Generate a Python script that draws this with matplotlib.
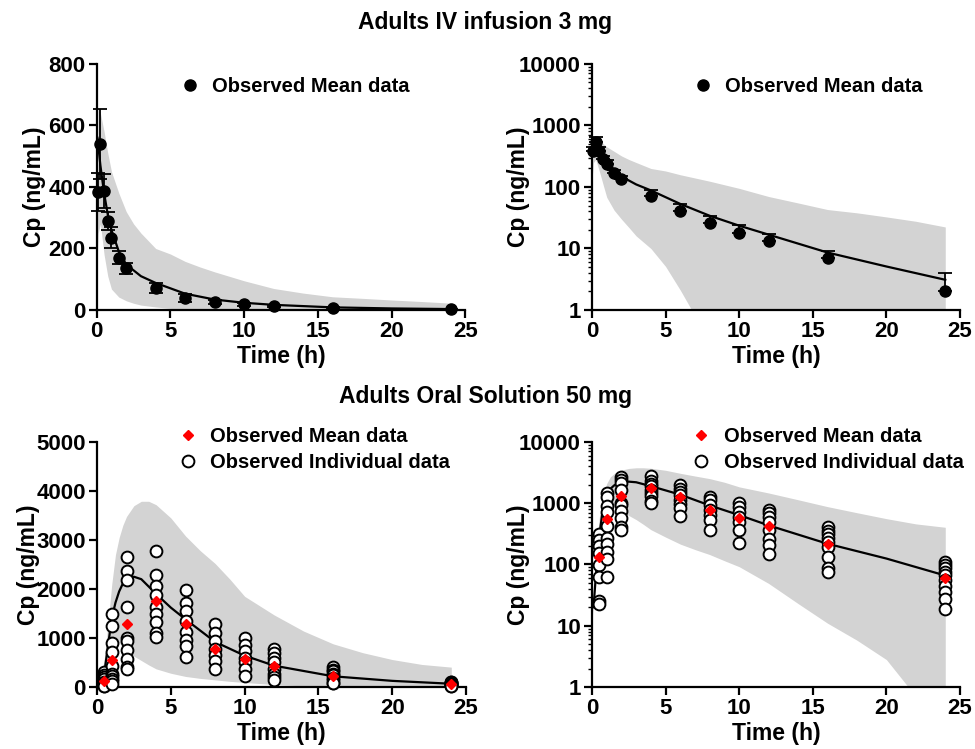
import numpy as np
import matplotlib
matplotlib.use('Agg')
from matplotlib import pyplot as plt
from matplotlib.ticker import LogLocator, NullFormatter, FixedLocator, FixedFormatter

plt.rcParams['font.family'] = ['Liberation Sans', 'DejaVu Sans']
plt.rcParams['font.weight'] = 'bold'

# IV infusion 3 mg - observed means (+/- SD)
iv_t = [0.083, 0.25, 0.5, 0.75, 1, 1.5, 2, 4, 6, 8, 10, 12, 16, 24]
iv_mean = [383, 540, 388, 290, 235, 170, 135, 72, 40, 26, 18, 13, 7, 2]
iv_sd = [62, 115, 55, 30, 35, 22, 17, 17, 13, 8, 6, 4, 2, 2]

# IV simulated mean and 5th-95th percentile
iv_sim_t = [0.05, 0.25, 0.5, 0.75, 1, 1.5, 2, 3, 4, 6, 8, 10, 12, 16, 20, 24]
iv_sim = [560, 470, 380, 310, 260, 190, 148, 110, 88, 53, 34, 23.5, 16.8, 8.6, 5.1, 3.1]
iv_band_t = [0.02, 0.1, 0.25, 0.5, 0.75, 1, 1.5, 2, 2.5, 3, 4, 5, 6, 7, 8, 10, 12, 14, 16, 18, 20, 22, 24]
iv_hi = [160, 660, 640, 580, 510, 450, 380, 320, 280, 250, 200, 182, 158, 140, 124, 95, 70, 55, 43, 38, 32.6, 27.7, 22.4]
iv_lo = [150, 250, 280, 180, 110, 68, 42, 30, 22, 16, 10, 5.1, 2.1, 0.8, 0.3, 0.05, 0.01, 0.003, 0.001, 0.0005, 0.0003, 0.0002, 0.0001]

# Oral solution 50 mg - observed
po_t = [0.5, 1, 2, 4, 6, 8, 10, 12, 16, 24]
po_mean = [131, 560, 1290, 1760, 1280, 780, 575, 430, 214, 60]
po_ind = [
    [315, 250, 200, 155, 98, 62, 25, 22.5],
    [1480, 1250, 900, 720, 430, 270, 215, 162, 122, 62],
    [2650, 2360, 2180, 1630, 1000, 940, 750, 565, 415, 360],
    [2780, 2290, 2060, 1880, 1640, 1480, 1330, 1100, 1010],
    [1970, 1710, 1550, 1350, 1120, 960, 840, 610],
    [1280, 1110, 940, 770, 650, 540, 365],
    [1000, 860, 730, 600, 500, 370, 225],
    [780, 690, 600, 500, 370, 260, 210, 148],
    [414, 356, 316, 268, 235, 191, 134, 87, 75],
    [111, 98, 87, 76, 67, 56, 45, 35, 27, 19],
]

# Oral simulated mean and 5th-95th percentile
po_sim_t = [0.1, 0.25, 0.5, 0.75, 1, 1.25, 1.5, 1.75, 2, 2.5, 3, 4, 5, 6, 8, 10, 12, 16, 20, 24]
po_sim = [20, 60, 300, 850, 1400, 1720, 1950, 2110, 2200, 2250, 2200, 1900, 1620, 1380, 920, 640, 435, 218, 125, 66]
po_band_t = [0.05, 0.25, 0.5, 0.75, 1, 1.25, 1.5, 1.75, 2, 2.5, 3, 3.5, 4, 5, 6, 7, 8, 9, 10, 12, 14, 16, 18, 20, 22, 24]
po_hi = [20, 150, 600, 1300, 2100, 2700, 3050, 3300, 3480, 3700, 3790, 3790, 3720, 3450, 3080, 2780, 2520, 2200, 1850, 1470, 1140, 880, 700, 560, 460, 405]
po_lo = [15, 60, 250, 700, 900, 930, 900, 820, 740, 630, 540, 450, 370, 280, 215, 175, 145, 115, 92, 49, 23, 11, 5.8, 2.8, 0.7, 0.3]

BAND = '#d3d3d3'
FS = 16


def style_axes(ax, log=False, ymax=800, ystep=200):
    for s in ['top', 'right']:
        ax.spines[s].set_visible(False)
    for s in ['left', 'bottom']:
        ax.spines[s].set_linewidth(1.6)
    ax.set_xlim(0, 25)
    ax.set_xticks([0, 5, 10, 15, 20, 25])
    if log:
        ax.set_yscale('log')
        ax.set_ylim(1, 10000)
        ax.yaxis.set_major_locator(FixedLocator([1, 10, 100, 1000, 10000]))
        ax.yaxis.set_major_formatter(FixedFormatter(['1', '10', '100', '1000', '10000']))
        ax.yaxis.set_minor_locator(LogLocator(base=10, subs=np.arange(2, 10), numticks=20))
        ax.yaxis.set_minor_formatter(NullFormatter())
    else:
        ax.set_ylim(0, ymax)
        ax.set_yticks(np.arange(0, ymax + 1, ystep))
    ax.tick_params(which='major', direction='out', length=6, width=1.6, labelsize=FS, pad=2)
    ax.tick_params(which='minor', direction='out', length=3, width=1.0)
    for lab in ax.get_xticklabels() + ax.get_yticklabels():
        lab.set_fontweight('bold')
    ax.set_xlabel('Time (h)', fontsize=16.5, fontweight='bold')
    ax.set_ylabel('Cp (ng/mL)', fontsize=16.5, fontweight='bold')
    ax.patch.set_alpha(0)


fig = plt.figure(figsize=(9.75, 7.49), dpi=100)

axTL = fig.add_axes([0.0992, 0.5861, 0.378, 0.3285])
axTR = fig.add_axes([0.6072, 0.5861, 0.3774, 0.3285])
axBL = fig.add_axes([0.0995, 0.0828, 0.3785, 0.3271])
axBR = fig.add_axes([0.6072, 0.0828, 0.3774, 0.3271])

# --- IV plots
for ax, log in [(axTL, False), (axTR, True)]:
    ax.fill_between(iv_band_t, iv_lo, iv_hi, color=BAND, lw=0, zorder=1)
    ax.plot(iv_sim_t, iv_sim, color='black', lw=1.6, zorder=3)
    if log:
        yerr = [np.zeros(len(iv_sd)), iv_sd]
    else:
        yerr = [iv_sd, iv_sd]
    ax.errorbar(iv_t, iv_mean, yerr=yerr, fmt='none', ecolor='black', elinewidth=1.3,
                capsize=5, capthick=1.3, zorder=4, clip_on=False)
    ax.plot(iv_t, iv_mean, 'o', color='black', ms=8, ls='none', zorder=5, clip_on=False,
            label='Observed Mean data')
    style_axes(ax, log=log, ymax=800, ystep=200)

axTL.legend(loc='center left', bbox_to_anchor=(0.225, 0.91), frameon=False, fontsize=14.5,
            handlelength=1.0, handletextpad=0.6, borderpad=0, borderaxespad=0)
axTR.legend(loc='center left', bbox_to_anchor=(0.275, 0.91), frameon=False, fontsize=14.5,
            handlelength=1.0, handletextpad=0.6, borderpad=0, borderaxespad=0)

# --- Oral plots
ind_t = np.concatenate([[t] * len(v) for t, v in zip(po_t, po_ind)])
ind_v = np.concatenate(po_ind)
for ax, log in [(axBL, False), (axBR, True)]:
    ax.fill_between(po_band_t, po_lo, po_hi, color=BAND, lw=0, zorder=1)
    ax.plot(po_sim_t, po_sim, color='black', lw=1.6, zorder=3)
    ax.plot(ind_t, ind_v, 'o', mfc='white', mec='black', mew=1.4, ms=8.5, ls='none',
            zorder=4, clip_on=False, label='Observed Individual data')
    ax.plot(po_t, po_mean, 'D', color='red', ms=5.5, ls='none', zorder=5, clip_on=False,
            label='Observed Mean data')
    style_axes(ax, log=log, ymax=5000, ystep=1000)

for ax, x0 in [(axBL, 0.22), (axBR, 0.27)]:
    h, l = ax.get_legend_handles_labels()
    ax.legend(h[::-1], l[::-1], loc='upper left', bbox_to_anchor=(x0, 1.06), frameon=False,
              fontsize=14.5, handlelength=1.0, handletextpad=0.6, borderpad=0,
              borderaxespad=0, labelspacing=0.35)

axTL.yaxis.set_label_coords(-0.168, 0.5)
axBL.yaxis.set_label_coords(-0.185, 0.5)
for ax in [axTR, axBR]:
    ax.yaxis.set_label_coords(-0.201, 0.5)
for ax in [axTL, axTR, axBL, axBR]:
    ax.yaxis.label.set_va('center')
    ax.xaxis.set_label_coords(0.5, -0.19)
    ax.xaxis.label.set_va('center')

fig.text(0.4979, 1 - 22 / 749, 'Adults IV infusion 3 mg', ha='center', va='center',
         fontsize=16.5, fontweight='bold')
fig.text(0.4979, 1 - 397 / 749, 'Adults Oral Solution 50 mg', ha='center', va='center',
         fontsize=16.5, fontweight='bold')

fig.savefig('out.png', dpi=100)
